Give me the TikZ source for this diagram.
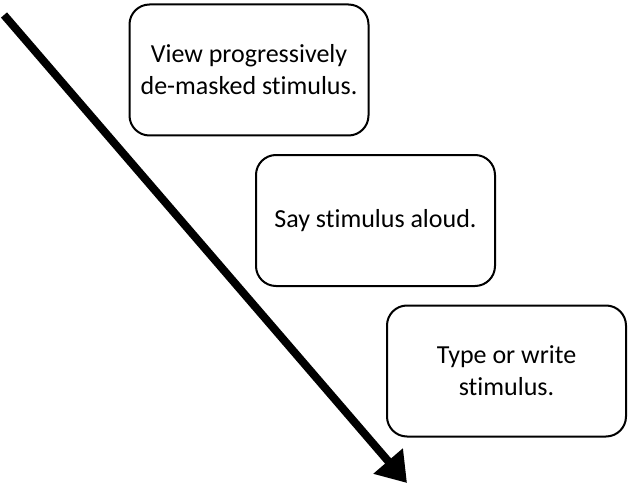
\documentclass[tikz,border=0pt]{standalone}
\usepackage{fontspec}
\setmainfont{Carlito}[Ligatures=NoCommon]
\usetikzlibrary{arrows.meta}
\begin{document}
\begin{tikzpicture}[x=1pt,y=-1pt,
  stepbox/.style={draw=black,line width=2pt,rounded corners=20pt,minimum width=239pt,minimum height=131pt,align=center,font=\fontsize{26}{32}\selectfont,inner sep=0pt}]
\useasboundingbox (0,0) rectangle (630,487);
\node[stepbox] (b1) at (249,70) {View progressively\\de-masked stimulus.};
\node[stepbox] (b2) at (375.5,220.5) {Say stimulus aloud.};
\node[stepbox] (b3) at (506.5,371) {Type or write\\stimulus.};
\coordinate (s) at (4,15);
\coordinate (e) at (407,483);
\draw[line width=8pt,-{Triangle[length=29pt,width=37pt]}] (s) -- (e);
\end{tikzpicture}
\end{document}
